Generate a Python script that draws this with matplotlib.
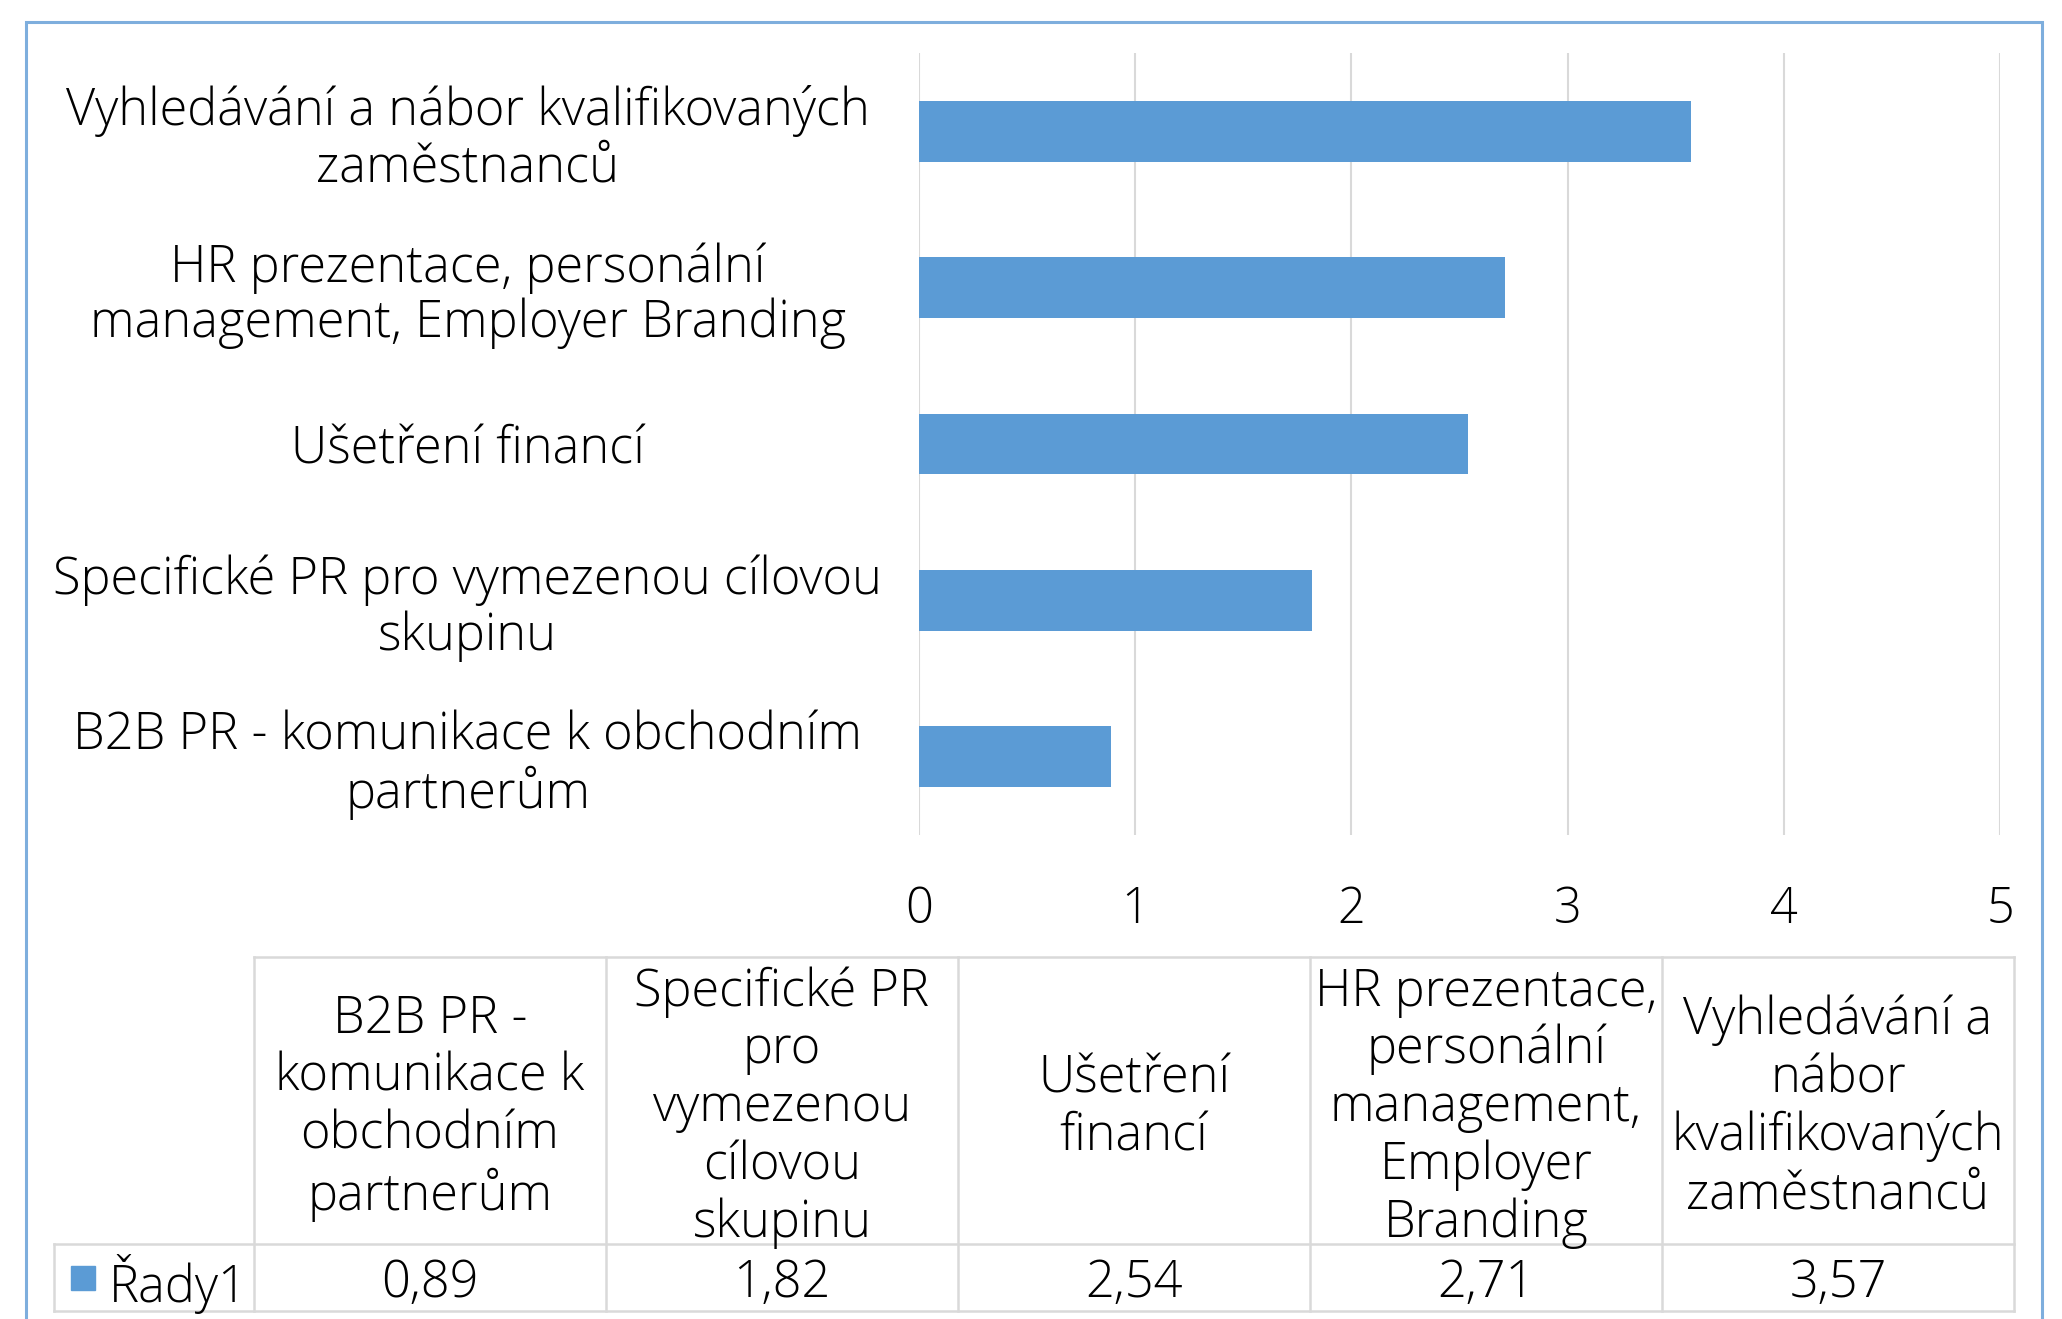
import matplotlib
matplotlib.use("Agg")
import matplotlib.pyplot as plt
from matplotlib.patches import Rectangle
from matplotlib.lines import Line2D

plt.rcParams['font.family'] = ['Open Sans', 'DejaVu Sans']

categories = [
    "B2B PR - komunikace k obchodním\npartnerům",
    "Specifické PR pro vymezenou cílovou\nskupinu",
    "Ušetření financí",
    "HR prezentace, personální\nmanagement, Employer Branding",
    "Vyhledávání a nábor kvalifikovaných\nzaměstnanců",
]
table_headers = [
    "B2B PR -\nkomunikace k\nobchodním\npartnerům",
    "Specifické PR\npro\nvymezenou\ncílovou\nskupinu",
    "Ušetření\nfinancí",
    "HR prezentace,\npersonální\nmanagement,\nEmployer\nBranding",
    "Vyhledávání a\nnábor\nkvalifikovaných\nzaměstnanců",
]
values = [0.89, 1.82, 2.54, 2.71, 3.57]
value_labels = ["0,89", "1,82", "2,54", "2,71", "3,57"]
series_name = "Řady1"
xticks = [0, 1, 2, 3, 4, 5]

W, H = 2062, 1319
fig = plt.figure(figsize=(W / 100, H / 100), dpi=100)

bar_color = "#5B9BD5"
grid_color = "#D9D9D9"
fs = 36.4
fw = 300

def fx(px):
    return px / W

def fy(py):
    return 1 - py / H

# outer border
fig.patches.append(Rectangle((fx(26), fy(1340)), fx(2042) - fx(26), fy(22) - fy(1340),
                             transform=fig.transFigure, fill=False,
                             edgecolor="#7EAEDD", linewidth=2.2))

ax = fig.add_axes([fx(919), fy(835), fx(2000) - fx(919), fy(53) - fy(835)])
ypos = list(range(len(categories)))
ax.barh(ypos, values, height=0.39, color=bar_color, zorder=3)
ax.set_xlim(0, 5)
ax.set_ylim(-0.5, 4.5)
ax.set_xticks(xticks)
ax.set_xticklabels([str(t) for t in xticks], fontsize=35, fontweight=fw)
ax.set_yticks(ypos)
ax.set_yticklabels(categories, fontsize=fs, ha="center", linespacing=1.11, fontweight=fw)
ax.tick_params(axis="y", length=0, pad=325)
ax.tick_params(axis="x", length=0, pad=36)
for lbl in ax.get_yticklabels():
    lbl.set_horizontalalignment("center")
ax.grid(axis="x", color=grid_color, linewidth=1.5, zorder=0)
for s in ax.spines.values():
    s.set_visible(False)

# table
col_x = [254 + 352 * i for i in range(6)]
row_top, row_mid, row_bot = 957, 1244, 1311
lc = grid_color
lw = 1.8

def hline(x0, x1, y):
    fig.add_artist(Line2D([fx(x0), fx(x1)], [fy(y), fy(y)], color=lc, lw=lw, transform=fig.transFigure))

def vline(x, y0, y1):
    fig.add_artist(Line2D([fx(x), fx(x)], [fy(y0), fy(y1)], color=lc, lw=lw, transform=fig.transFigure))

hline(col_x[0], col_x[-1], row_top)
hline(54, col_x[-1], row_mid)
hline(54, col_x[-1], row_bot)
for x in col_x:
    vline(x, row_top, row_bot)
vline(54, row_mid, row_bot)

for i, h in enumerate(table_headers):
    cx = (col_x[i] + col_x[i + 1]) / 2
    fig.text(fx(cx), fy((row_top + row_mid) / 2 + 7), h, ha="center", va="center",
             fontsize=fs, linespacing=1.16, fontweight=fw)
    fig.text(fx(cx), fy((row_mid + row_bot) / 2 + 6), value_labels[i], ha="center", va="center",
             fontsize=fs, fontweight=fw)

fig.patches.append(Rectangle((fx(71), fy(1290)), fx(95) - fx(71), fy(1266) - fy(1290),
                             transform=fig.transFigure, color=bar_color))
fig.text(fx(109), fy((row_mid + row_bot) / 2 + 6), series_name, ha="left", va="center",
         fontsize=fs, fontweight=fw)

fig.savefig("out.png", dpi=100)
